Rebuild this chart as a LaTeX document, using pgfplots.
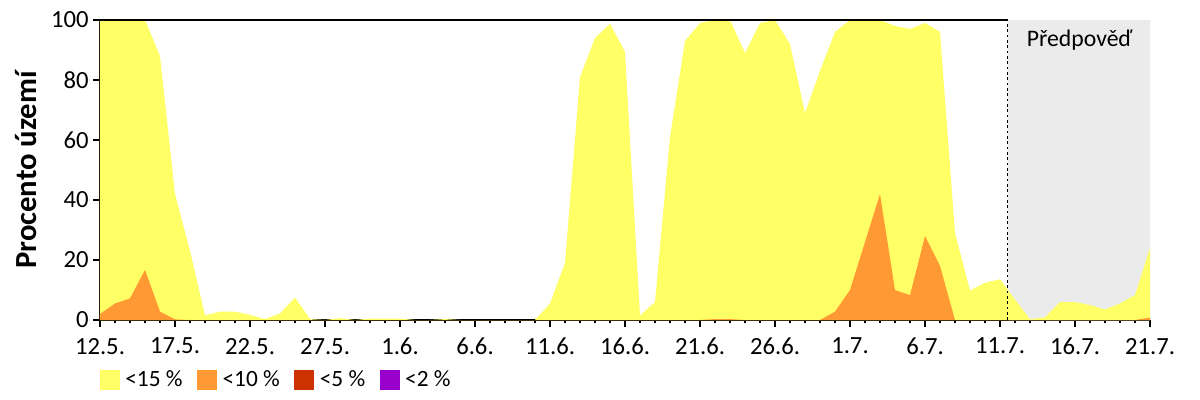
\documentclass[border=0pt]{standalone}
\usepackage{fontspec}
\setmainfont{Carlito}
\usepackage{pgfplots}
\pgfplotsset{compat=1.18}
\definecolor{c15}{HTML}{FFFF66}
\definecolor{c10}{HTML}{FF9933}
\definecolor{c5}{HTML}{CC3300}
\definecolor{c2}{HTML}{9900CC}
\definecolor{fcast}{HTML}{EBEBEB}

\begin{document}
\begin{tikzpicture}
\begin{axis}[
  scale only axis,
  width=787.5pt, height=225pt,
  xmin=0, xmax=70, ymin=0, ymax=100,
  axis x line*=bottom, axis y line*=left,
  axis line style={line width=0.8pt},
  xtick={0,5,...,70},
  xticklabels={12.5.,17.5.,22.5.,27.5.,1.6.,6.6.,11.6.,16.6.,21.6.,26.6.,1.7.,6.7.,11.7.,16.7.,21.7.},
  minor x tick num=4,
  ytick={0,20,...,100},
  tick align=outside,
  major tick length=5pt, minor tick length=2.5pt,
  tick style={black, line width=0.8pt},
  ticklabel style={font=\fontsize{18.5}{20}\selectfont},
  xticklabel style={yshift=-5pt},
  /pgf/number format/assume math mode=true,
  ylabel={Procento území},
  ylabel style={font=\fontsize{23}{26}\selectfont\bfseries,
    at={(axis description cs:-0.0705,0.5)}, anchor=center},
  legend style={at={(axis description cs:0,-0.1667)}, anchor=north west,
    draw=none, fill=none, inner sep=0pt, outer sep=0pt,
    legend columns=-1, font=\fontsize{17.5}{19}\selectfont,
    nodes={inner sep=0pt},
    /tikz/every odd column/.append style={column sep=4pt},
    /tikz/every even column/.append style={column sep=11pt}},
  legend image code/.code={\fill[#1] (0pt,-7.5pt) rectangle (15pt,7.5pt);},
]
% forecast area
\addplot[fill=fcast, draw=none, forget plot] coordinates {(60.5,0) (60.5,100) (70,100) (70,0)} \closedcycle;

% <15 %
\addplot[fill=c15, draw=none] coordinates {
 (0,100) (1,100) (2,100) (3,100) (4,88) (5,42) (6,23) (7,1.5) (8,2.8) (9,2.8)
 (10,1.7) (11,0.3) (12,2.2) (13,7.5) (14,0.3) (15,0) (16,0.6) (17,0) (18,0.5) (19,0.5)
 (20,0.5) (21,0) (22,0) (23,0.3) (24,0) (25,0) (26,0) (27,0) (28,0) (29,0)
 (30,5.5) (31,19) (32,81) (33,94) (34,98.7) (35,89.4) (36,1.5) (37,6) (38,61) (39,93)
 (40,99) (41,100) (42,100) (43,89) (44,99) (45,100) (46,92) (47,69) (48,83) (49,96)
 (50,100) (51,100) (52,100) (53,98) (54,97) (55,99) (56,96) (57,29) (58,9.8) (59,12.4)
 (60,13.6) (61,6.8) (62,0.2) (63,0.9) (64,6) (65,6) (66,5) (67,3.5) (68,5.5) (69,8.3)
 (70,24)} \closedcycle;
\addlegendentry{<15 \%}

% <10 %
\addplot[fill=c10, draw=none] coordinates {
 (0,2) (1,5.5) (2,7.2) (3,16.7) (4,2.8) (5,0.2) (6,0)
 (40,0) (41,0.3) (42,0.3) (43,0)
 (48,0) (49,2.8) (50,10) (51,26) (52,42) (53,10) (54,8.3) (55,28) (56,18) (57,0)
 (69,0) (70,0.8)} \closedcycle;
\addlegendentry{<10 \%}

\addlegendimage{fill=c5, draw=none}
\addlegendentry{<5 \%}
\addlegendimage{fill=c2, draw=none}
\addlegendentry{<2 \%}

\draw[line width=0.8pt] (axis cs:0,100) -- (axis cs:60.5,100);
\draw[line width=0.6pt, dash pattern=on 2pt off 2pt] (axis cs:60.5,0) -- (axis cs:60.5,100);
\node[anchor=base, font=\fontsize{17.8}{19}\selectfont] at (axis cs:65.3,91) {Předpověď};
\end{axis}
\pgfresetboundingbox
\path (-75pt,-60pt) rectangle (825pt,240pt);
\end{tikzpicture}
\end{document}
